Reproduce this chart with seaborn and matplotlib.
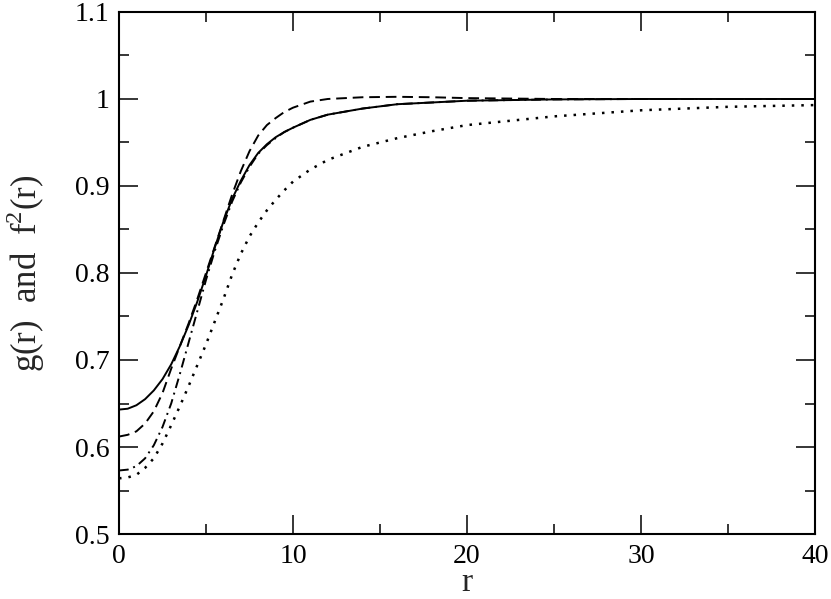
import matplotlib
matplotlib.use("Agg")
import matplotlib.pyplot as plt
import seaborn as sns
import pandas as pd
from matplotlib.ticker import MultipleLocator

# values
r = [0, 0.5, 1, 1.5, 2, 2.5, 3, 3.5, 4, 4.5, 5, 5.5, 6, 6.5, 7, 7.5, 8, 8.5, 9, 9.5,
     10, 11, 12, 14, 16, 18, 20, 25, 30, 35, 40]
g_solid = [0.643, 0.644, 0.648, 0.655, 0.665, 0.678, 0.695, 0.716, 0.740, 0.767,
           0.797, 0.829, 0.859, 0.885, 0.906, 0.924, 0.938, 0.948, 0.956, 0.962,
           0.967, 0.976, 0.982, 0.989, 0.994, 0.996, 0.998, 0.9995, 1.0, 1.0, 1.0]
g_dashed = [0.612, 0.614, 0.618, 0.627, 0.641, 0.662, 0.690, 0.716, 0.742, 0.770,
            0.800, 0.830, 0.860, 0.890, 0.917, 0.940, 0.958, 0.970, 0.978, 0.985,
            0.990, 0.997, 1.000, 1.002, 1.0025, 1.002, 1.001, 1.0, 1.0, 1.0, 1.0]
f2_dashdot = [0.573, 0.574, 0.578, 0.587, 0.602, 0.623, 0.650, 0.684, 0.720, 0.756,
              0.792, 0.825, 0.855, 0.882, 0.904, 0.922, 0.937, 0.947, 0.955, 0.962,
              0.967, 0.976, 0.982, 0.989, 0.994, 0.996, 0.998, 0.9995, 1.0, 1.0, 1.0]
f2_dotted = [0.564, 0.565, 0.568, 0.576, 0.587, 0.604, 0.625, 0.647, 0.670, 0.694,
             0.718, 0.744, 0.770, 0.798, 0.822, 0.842, 0.858, 0.872, 0.884, 0.895,
             0.905, 0.919, 0.930, 0.945, 0.955, 0.963, 0.970, 0.980, 0.987, 0.991, 0.993]

df = pd.DataFrame({"r": r, "solid": g_solid, "dashed": g_dashed,
                   "dashdot": f2_dashdot, "dotted": f2_dotted})

sns.set_style("ticks")
plt.rcParams["font.family"] = ["Liberation Serif", "DejaVu Serif"]
plt.rcParams["mathtext.fontset"] = "custom"
plt.rcParams["mathtext.rm"] = "Liberation Serif"

fig = plt.figure(figsize=(8.31, 5.99), dpi=100)
ax = fig.add_axes([0.1432, 0.1085, 0.8375, 0.8715])

lw = 1.4
sns.lineplot(data=df, x="r", y="solid", ax=ax, color="black", lw=lw)
sns.lineplot(data=df, x="r", y="dashed", ax=ax, color="black", lw=lw,
             linestyle=(0, (5.5, 3)))
sns.lineplot(data=df, x="r", y="dashdot", ax=ax, color="black", lw=lw,
             linestyle=(0, (5, 2.5, 1, 2.5)))
sns.lineplot(data=df, x="r", y="dotted", ax=ax, color="black", lw=1.8,
             linestyle=(0, (1, 2.8)))

ax.set_xlim(0, 40)
ax.set_ylim(0.5, 1.1)
ax.xaxis.set_major_locator(MultipleLocator(10))
ax.xaxis.set_minor_locator(MultipleLocator(5))
ax.yaxis.set_minor_locator(MultipleLocator(0.05))
ax.set_yticks([0.5, 0.6, 0.7, 0.8, 0.9, 1.0, 1.1])
ax.set_yticklabels(["0.5", "0.6", "0.7", "0.8", "0.9", "1", "1.1"])

ax.tick_params(which="both", direction="in", top=True, right=True,
               width=1.1, labelsize=20, colors="black")
ax.tick_params(which="major", length=13.5, pad=7)
ax.tick_params(which="minor", length=7)
for s in ax.spines.values():
    s.set_linewidth(1.5)
    s.set_color("black")

ax.set_xlabel("r", fontsize=24, labelpad=-1)
ax.set_ylabel("g(r)  and  f$^{2}$(r)", fontsize=25, labelpad=20)

fig.savefig("out.png", dpi=100)
